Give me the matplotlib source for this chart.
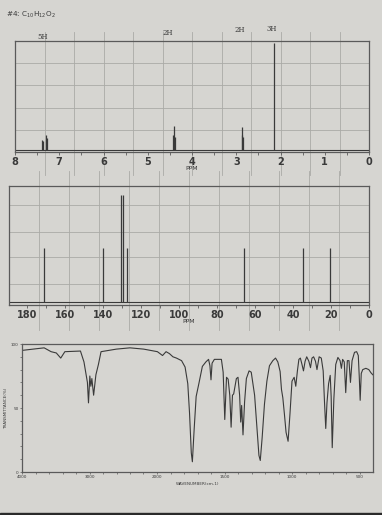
import numpy as np
import matplotlib
matplotlib.use('Agg')
import matplotlib.pyplot as plt
from matplotlib.ticker import FixedLocator, MultipleLocator
import matplotlib.transforms as mtransforms
from matplotlib.patches import Rectangle

# ---------------- data ----------------
title = r'#4: C$_{10}$H$_{12}$O$_{2}$'

# 1H NMR (ppm, relative height)
h1_ppm = [7.39, 7.37, 7.30, 7.28, 4.42, 4.40, 4.38, 2.88, 2.86, 2.84, 2.15]
h1_int = [0.09, 0.08, 0.136, 0.11, 0.136, 0.22, 0.12, 0.136, 0.207, 0.12, 0.985]
h1_labels = ['5H', '2H', '2H', '3H']
h1_label_ppm = [7.37, 4.54, 2.92, 2.21]
h1_ticks = [8, 7, 6, 5, 4, 3, 2, 1, 0]

# 13C NMR (ppm, relative height)
c13_ppm = [171.0, 140.0, 130.3, 129.6, 127.6, 66.0, 34.5, 20.5]
c13_int = [0.46, 0.46, 0.92, 0.92, 0.46, 0.46, 0.46, 0.46]
c13_ticks = [180, 160, 140, 120, 100, 80, 60, 40, 20, 0]

# IR (wavenumber cm-1, %T)
ir_wn = [4000, 3672, 3569, 3492, 3426, 3365, 3134, 3082, 3057, 3031, 3015, 2995, 2980, 2965,
         2939, 2905, 2868, 2829, 2602, 2401, 2197, 2096, 1997, 1959, 1933, 1908, 1882, 1856,
         1818, 1792, 1772, 1759, 1746, 1738, 1725, 1710, 1690, 1664, 1638, 1618, 1608, 1600,
         1592, 1575, 1556, 1523, 1510, 1498, 1485, 1473, 1461, 1451, 1441, 1432, 1412, 1400,
         1388, 1380, 1373, 1363, 1351, 1338, 1318, 1302, 1277, 1260, 1245, 1235, 1221, 1204,
         1186, 1167, 1142, 1122, 1105, 1088, 1078, 1068, 1056, 1044, 1029, 1015, 1000, 984,
         972, 960, 949, 938, 926, 915, 903, 891, 875, 863, 852, 840, 826, 815, 799, 783, 769,
         759, 750, 741, 729, 717, 710, 702, 690, 676, 660, 644, 634, 625, 613, 602, 590, 578,
         567, 555, 537, 521, 509, 502, 495, 487, 476, 453, 431, 415, 402]
ir_t = [95, 97, 94, 93, 89, 94, 94.5, 86, 78, 70, 54, 75, 67, 73,
        60, 76, 84, 94, 96, 97, 96, 95, 94, 91, 94, 92.5, 90, 89,
        87, 82, 69, 46, 15, 8, 33, 59, 69, 82.5, 86, 88, 83, 72,
        85, 88, 88, 88, 78, 41, 74, 72.5, 60, 35, 60, 61, 73, 74,
        60, 39, 52, 29, 55, 73, 79, 78, 60, 34.5, 13, 9, 27, 53,
        71, 83, 87, 89, 86, 78.5, 64.5, 58, 45, 31, 24, 45.5, 71, 74,
        67, 79, 88, 89, 84, 79, 86.5, 90, 86.5, 81.5, 89, 90, 86.5, 80, 90, 89, 79,
        54, 34, 54, 69, 75.5, 59, 19, 57, 84, 89.5, 87, 81, 88, 86, 62, 87, 87,
        70, 87, 93.5, 94, 91, 75, 56, 77, 80, 81, 80, 77.5, 76]
ir_ticks = [4000, 3000, 2000, 1500, 1000, 500]
ir_yticks = [0, 50, 100]

# ---------------- style ----------------
bg = '#d6d5d1'
frame_c = '#5a5a5a'
grid_c = '#aaaaa7'
ink = '#3a3a3a'
W, H = 382, 515

fig = plt.figure(figsize=(W / 100, H / 100), dpi=100, facecolor=bg)


def box(l, t, r, b):
    return [l / W, 1 - b / H, (r - l) / W, (b - t) / H]


def style_frame(ax):
    ax.set_facecolor(bg)
    for s in ax.spines.values():
        s.set_color(frame_c)
        s.set_linewidth(0.9)


def paper_grid(ax, ncols, rows, ylo, yhi):
    for i in range(1, ncols):
        ax.plot([i / ncols] * 2, [ylo, yhi], transform=ax.transAxes, color=grid_c, lw=0.6,
                zorder=0, clip_on=False)
    for yf in rows:
        ax.plot([0, 1], [yf, yf], transform=ax.transAxes, color=grid_c, lw=0.6, zorder=0)


fig.text(6 / W, 1 - 15 / H, title, fontsize=5.2, color=ink, va='center', ha='left')

tick_font = dict(labelsize=7, labelcolor=ink)

# ---- 1H NMR ----
ax1 = fig.add_axes(box(15, 41, 369, 152))
style_frame(ax1)
paper_grid(ax1, 12, [0.2, 0.4, 0.6, 0.8], -0.21, 1.08)
ax1.set_xlim(8, 0)
ax1.set_ylim(-0.02, 1.0)
ax1.axhline(0, color=ink, lw=0.8)
ax1.vlines(h1_ppm, 0, h1_int, color=ink, lw=0.9)
ax1.set_yticks([])
ax1.xaxis.set_major_locator(FixedLocator(h1_ticks))
ax1.xaxis.set_minor_locator(MultipleLocator(0.5))
ax1.tick_params(axis='x', which='both', direction='out', length=2, width=0.6, color=frame_c,
                pad=1.5, **tick_font)
for lb in ax1.get_xticklabels():
    lb.set_fontweight('bold')
ax1.set_xlabel('PPM', fontsize=4.5, color=ink, labelpad=-0.5)
trans1 = mtransforms.blended_transform_factory(ax1.transData, ax1.transAxes)
for lab, p, yy in zip(h1_labels, h1_label_ppm, [1.036, 1.072, 1.10, 1.108]):
    ax1.text(p, yy, lab, transform=trans1, fontsize=5, family='DejaVu Serif',
             color=ink, ha='center', va='center')

# ---- 13C NMR ----
ax2 = fig.add_axes(box(9, 186, 369, 305))
style_frame(ax2)
paper_grid(ax2, 12, [0.18, 0.4, 0.61, 0.84], -0.21, 1.13)
ax2.set_xlim(189.5, 0)
ax2.set_ylim(-0.03, 1.0)
ax2.axhline(0, color=ink, lw=0.8)
ax2.vlines(c13_ppm, 0, c13_int, color=ink, lw=0.9)
ax2.set_yticks([])
ax2.xaxis.set_major_locator(FixedLocator(c13_ticks))
ax2.xaxis.set_minor_locator(MultipleLocator(10))
ax2.tick_params(axis='x', which='both', direction='out', length=2, width=0.6, color=frame_c,
                pad=1.5, **tick_font)
for lb in ax2.get_xticklabels():
    lb.set_fontweight('bold')
ax2.set_xlabel('PPM', fontsize=4.5, color=ink, labelpad=-0.5)

# ---- IR ----
def fwd(w):
    w = np.asarray(w, dtype=float)
    return np.where(w < 2000, w - 400, 1600 + (w - 2000) / 2)


def inv(u):
    u = np.asarray(u, dtype=float)
    return np.where(u < 1600, u + 400, 2000 + 2 * (u - 1600))


ax3 = fig.add_axes(box(22, 344, 373, 472))
style_frame(ax3)
ax3.set_xscale('function', functions=(fwd, inv))
ax3.set_xlim(4000, 400)
ax3.set_ylim(0, 100)
ax3.plot(ir_wn, ir_t, color=ink, lw=0.8)
ax3.xaxis.set_major_locator(FixedLocator(ir_ticks))
ax3.xaxis.set_minor_locator(FixedLocator(list(range(3800, 2000, -200)) + list(range(1900, 400, -100))))
ax3.yaxis.set_major_locator(FixedLocator(ir_yticks))
ax3.yaxis.set_minor_locator(MultipleLocator(10))
ax3.tick_params(which='both', direction='out', length=1.5, width=0.5, color=frame_c,
                labelsize=3, labelcolor=ink, pad=1)
ax3.set_xlabel('WAVENUMBER(cm-1)', fontsize=3, color=ink, labelpad=2)
ax3.set_ylabel('TRANSMITTANCE(%)', fontsize=3, color=ink, labelpad=2)

# dark photo edge at the bottom
fig.patches.append(Rectangle((0, 0), 1, 2.5 / H, transform=fig.transFigure,
                             color='#2a2a2a', zorder=5))

fig.savefig('out.png', dpi=100, facecolor=bg)
